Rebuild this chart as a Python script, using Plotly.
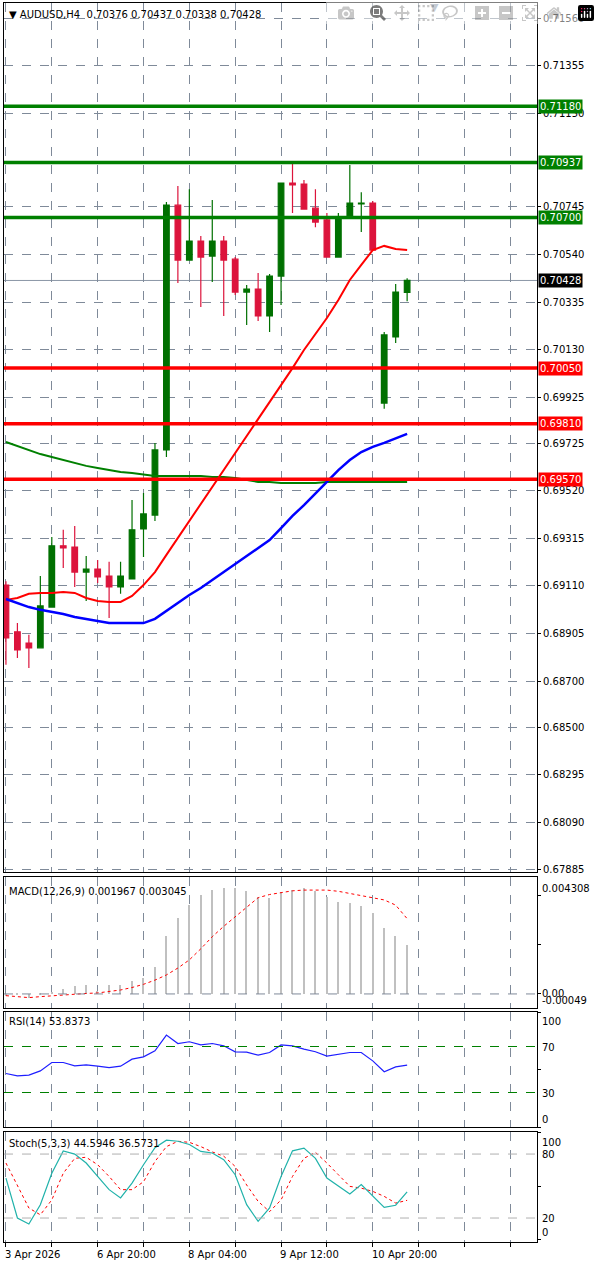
import plotly.graph_objects as go

# ---------------- data ----------------
opens = [0.69114,0.68912,0.68864,0.68843,0.69019,0.69283,0.69278,0.69170,0.69183,0.69153,0.69106,0.69140,0.69356,0.69416,0.69697,0.70753,0.70516,0.70598,0.70533,0.70598,0.70520,0.70378,0.70391,0.70275,0.70447,0.70848,0.70844,0.70740,0.70689,0.70529,0.70697,0.70758,0.70762,0.69899,0.70184,0.70376]
highs = [0.69130,0.68950,0.68899,0.69153,0.69321,0.69352,0.69369,0.69239,0.69222,0.69214,0.69214,0.69481,0.69511,0.69727,0.70766,0.70835,0.70822,0.70620,0.70775,0.70620,0.70529,0.70408,0.70460,0.70456,0.70848,0.70939,0.70861,0.70822,0.70719,0.70719,0.70926,0.70809,0.70771,0.70206,0.70413,0.70437]
lows  = [0.68770,0.68799,0.68756,0.68843,0.69019,0.69188,0.69106,0.69045,0.69123,0.68972,0.69076,0.69140,0.69235,0.69390,0.69666,0.70417,0.70516,0.70313,0.70421,0.70275,0.70365,0.70236,0.70253,0.70206,0.70322,0.70719,0.70736,0.70658,0.70529,0.70529,0.70697,0.70637,0.70559,0.69874,0.70158,0.70338]
closes= [0.68886,0.68834,0.68843,0.69024,0.69283,0.69274,0.69170,0.69183,0.69149,0.69106,0.69153,0.69352,0.69421,0.69697,0.70753,0.70516,0.70598,0.70529,0.70598,0.70516,0.70378,0.70391,0.70275,0.70447,0.70848,0.70840,0.70736,0.70680,0.70529,0.70697,0.70762,0.70762,0.70559,0.70193,0.70378,0.70428]

ma_fast = [0.69050,0.69058,0.69076,0.69080,0.69080,0.69084,0.69080,0.69058,0.69045,0.69041,0.69041,0.69067,0.69114,0.69170,0.69244,0.69317,0.69390,0.69464,0.69537,0.69610,0.69684,0.69757,0.69830,0.69904,0.69977,0.70050,0.70128,0.70197,0.70266,0.70344,0.70430,0.70495,0.70559,0.70577,0.70564,0.70559]
ma_mid  = [0.69054,0.69037,0.69019,0.69007,0.68998,0.68989,0.68976,0.68968,0.68959,0.68950,0.68950,0.68950,0.68950,0.68968,0.69002,0.69037,0.69071,0.69101,0.69136,0.69170,0.69205,0.69239,0.69274,0.69308,0.69360,0.69412,0.69459,0.69507,0.69559,0.69610,0.69653,0.69688,0.69710,0.69727,0.69748,0.69766]
ma_slow = [0.69731,0.69714,0.69697,0.69679,0.69666,0.69653,0.69641,0.69628,0.69619,0.69610,0.69602,0.69597,0.69589,0.69584,0.69584,0.69584,0.69584,0.69584,0.69580,0.69580,0.69576,0.69567,0.69559,0.69559,0.69554,0.69554,0.69554,0.69554,0.69559,0.69559,0.69559,0.69559,0.69559,0.69559,0.69559,0.69559]

macd_hist = [-0.00010,-0.00005,-0.00015,-0.00005,0.00005,0.00019,0.00032,0.00036,0.00010,0.00036,0.00036,0.00053,0.00063,0.00111,0.00235,0.00307,0.00361,0.00401,0.00421,0.00428,0.00428,0.00419,0.00394,0.00388,0.00415,0.00421,0.00428,0.00417,0.00394,0.00374,0.00367,0.00357,0.00327,0.00269,0.00235,0.00197]
macd_signal = [-0.00007,-0.00010,-0.00015,-0.00011,-0.00007,-0.00003,0.00000,0.00002,0.00004,0.00009,0.00016,0.00026,0.00039,0.00056,0.00077,0.00105,0.00138,0.00183,0.00232,0.00274,0.00313,0.00355,0.00390,0.00403,0.00412,0.00418,0.00421,0.00422,0.00421,0.00416,0.00408,0.00400,0.00390,0.00381,0.00360,0.00305]
rsi = [46.5,44.5,45.1,48.8,56.1,56.1,53.2,54.1,52.9,51.7,52.9,59.0,61.0,66.2,79.9,72.6,74.1,71.4,72.6,70.6,65.4,65.1,62.5,64.8,71.4,70.6,67.7,65.4,61.6,63.3,64.8,64.8,57.5,48.0,52.3,53.8]
stoch_k = [57.5,20.0,14.4,32.5,62.0,83.0,80.0,71.6,59.0,46.6,38.8,52.8,70.0,86.0,93.0,92.0,89.0,82.5,81.0,74.7,60.6,32.5,16.9,29.4,59.0,83.0,85.6,76.0,57.5,49.7,42.5,51.3,40.3,30.0,32.0,44.6]
stoch_d = [71.6,51.0,29.4,23.0,37.0,62.0,76.0,77.0,70.0,59.0,46.6,46.6,54.0,73.0,87.0,92.0,91.0,87.0,82.0,78.0,68.4,51.0,35.6,26.0,37.0,59.0,76.0,81.6,71.6,60.6,49.7,48.0,45.0,40.3,34.0,36.6]

indicator_titles = ["MACD(12,26,9) 0.001967 0.003045", "RSI(14) 53.8373", "Stoch(5,3,3) 44.5946 36.5731"]
green_levels = [0.71180, 0.70937, 0.70700]
red_levels = [0.70050, 0.69810, 0.69570]
last_price = 0.70428
price_ticks = [0.71560,0.71355,0.71150,0.70745,0.70540,0.70335,0.70130,0.69925,0.69725,0.69520,0.69315,0.69110,0.68905,0.68700,0.68500,0.68295,0.68090,0.67885]
macd_labels = ["0.004308", "0.00", "-0.00049"]
rsi_labels = ["100", "70", "30", "0"]
stoch_labels = ["100", "80", "20", "0"]
date_idx = [0, 8, 16, 24, 32]
date_labels = ["3 Apr 2026", "6 Apr 20:00", "8 Apr 04:00", "9 Apr 12:00", "10 Apr 20:00"]
title_text = "AUDUSD,H4  0.70376 0.70437 0.70338 0.70428"

x = list(range(len(closes)))
FONT = "DejaVu Sans"
GREEN = "#007000"
CRIMSON = "#DC143C"
GRID = "#7f8a99"

fig = go.Figure()
fig.add_trace(go.Candlestick(x=x, open=opens, high=highs, low=lows, close=closes,
    increasing=dict(line=dict(color=GREEN, width=1.2), fillcolor=GREEN),
    decreasing=dict(line=dict(color=CRIMSON, width=1.2), fillcolor=CRIMSON),
    whiskerwidth=0, xaxis="x", yaxis="y", showlegend=False))
fig.add_trace(go.Scatter(x=x, y=ma_slow, mode="lines", line=dict(color="#008000", width=2), xaxis="x", yaxis="y", showlegend=False))
fig.add_trace(go.Scatter(x=x, y=ma_fast, mode="lines", line=dict(color="#FF0000", width=2), xaxis="x", yaxis="y", showlegend=False))
fig.add_trace(go.Scatter(x=x, y=ma_mid, mode="lines", line=dict(color="#0000FF", width=2.5), xaxis="x", yaxis="y", showlegend=False))

fig.add_trace(go.Bar(x=x, y=macd_hist, marker=dict(color="#c0c0c0", line=dict(width=0)), width=0.12, xaxis="x2", yaxis="y2", showlegend=False))
fig.add_trace(go.Scatter(x=x, y=macd_signal, mode="lines", line=dict(color="#FF0000", width=1, dash="dot"), xaxis="x2", yaxis="y2", showlegend=False))
fig.add_trace(go.Scatter(x=x, y=rsi, mode="lines", line=dict(color="#1E1EFF", width=1.2), xaxis="x3", yaxis="y3", showlegend=False))
fig.add_trace(go.Scatter(x=x, y=stoch_d, mode="lines", line=dict(color="#FF0000", width=1, dash="dot"), xaxis="x4", yaxis="y4", showlegend=False))
fig.add_trace(go.Scatter(x=x, y=stoch_k, mode="lines", line=dict(color="#20B2AA", width=1.2), xaxis="x4", yaxis="y4", showlegend=False))

def frac(px):
    return 1 - px / 1243.0

xr = [-0.17, 46.33]
xcommon = dict(range=xr, showgrid=True, gridcolor=GRID, griddash="dash", gridwidth=1,
               tick0=0, dtick=4, showticklabels=False, zeroline=False,
               showline=True, linecolor="black", linewidth=1, mirror=True, domain=[0, 1])
ycommon = dict(side="right", showline=True, linecolor="black", linewidth=1, mirror=True,
               zeroline=False, tickfont=dict(family=FONT, size=10, color="black"),
               ticks="outside", ticklen=3, tickcolor="black")

shapes = []
for lv in green_levels:
    shapes.append(dict(type="line", xref="paper", x0=0, x1=1, yref="y", y0=lv, y1=lv, line=dict(color="#008000", width=3.5)))
for lv in red_levels:
    shapes.append(dict(type="line", xref="paper", x0=0, x1=1, yref="y", y0=lv, y1=lv, line=dict(color="#FF0000", width=3.5)))
shapes.append(dict(type="line", xref="paper", x0=0, x1=1, yref="y", y0=last_price, y1=last_price, line=dict(color="#8a96a6", width=1), layer="below"))
for lv in [70, 30]:
    shapes.append(dict(type="line", xref="x3", x0=xr[0], x1=xr[1], yref="y3", y0=lv, y1=lv, line=dict(color="#008000", width=1, dash="dash")))
for lv in [80, 20]:
    shapes.append(dict(type="line", xref="x4", x0=xr[0], x1=xr[1], yref="y4", y0=lv, y1=lv, line=dict(color="#b0b0b0", width=1, dash="dash")))
shapes.append(dict(type="line", xref="x2", x0=xr[0], x1=xr[1], yref="y2", y0=0, y1=0, line=dict(color=GRID, width=1, dash="dash")))

ann = []
def lab(text, y, bg):
    ann.append(dict(text=text, x=1, xref="paper", xanchor="left", xshift=1, y=y, yref="y",
                    showarrow=False, bgcolor=bg, font=dict(family=FONT, size=10, color="white"), borderpad=1))
for lv in green_levels:
    lab(f"{lv:.5f}", lv, "#008000")
for lv in red_levels:
    lab(f"{lv:.5f}", lv, "#FF0000")
lab(f"{last_price:.5f}", last_price, "black")

def txt(text, xx, yy, size=10, xanchor="left", color="black", xshift=0):
    ann.append(dict(text=text, x=xx, xref="paper", y=yy, yref="paper", showarrow=False, xanchor=xanchor,
                    xshift=xshift, yanchor="middle", font=dict(family=FONT, size=size, color=color)))

txt("▼ " + title_text, 0.005, frac(14))
txt("▼", 0.795, frac(7), size=11, color="#8a96a6")
for t, py in zip(indicator_titles, [891, 1022, 1143]):
    txt(t, 0.005, frac(py))
for t, py in zip(macd_labels, [888, 993, 1000]):
    txt(t, 1, frac(py), xshift=3)
for t, py in zip(rsi_labels, [1022, 1047, 1093, 1119]):
    txt(t, 1, frac(py), xshift=3)
for t, py in zip(stoch_labels, [1142, 1154, 1218, 1232]):
    txt(t, 1, frac(py), xshift=3)
for i, l in zip(date_idx, date_labels):
    ann.append(dict(text=l, x=i, xref="x4", y=frac(1254), yref="paper", showarrow=False,
                    xanchor="left", xshift=-3, yanchor="middle", font=dict(family=FONT, size=10, color="black")))

fig.update_layout(
    width=600, height=1263, margin=dict(l=4, r=63, t=0, b=20),
    paper_bgcolor="white", plot_bgcolor="white", showlegend=False, bargap=0,
    xaxis=dict(**xcommon, anchor="y", rangeslider=dict(visible=False)),
    xaxis2=dict(**xcommon, anchor="y2", matches="x"),
    xaxis3=dict(**xcommon, anchor="y3", matches="x"),
    xaxis4=dict(**xcommon, anchor="y4", matches="x"),
    yaxis=dict(**ycommon, domain=[frac(872), frac(3)], range=[0.67876, 0.71625],
               tickvals=price_ticks, ticktext=[f"{t:.5f}" for t in price_ticks],
               showgrid=True, gridcolor=GRID, griddash="dash"),
    yaxis2=dict(**ycommon, domain=[frac(1008), frac(877)], range=[-0.00057, 0.00474], showticklabels=False, showgrid=False),
    yaxis3=dict(**ycommon, domain=[frac(1127), frac(1012)], range=[0, 100], showticklabels=False, showgrid=False),
    yaxis4=dict(**ycommon, domain=[frac(1242), frac(1132)], range=[-2.5, 100.7], showticklabels=False, showgrid=False),
    shapes=shapes, annotations=ann,
)
fig.update_layout(xaxis4=dict(ticks="outside", ticklen=4, tickcolor="black"))
fig.write_html("out.html", post_script="document.body.style.margin='0';document.body.style.overflow='hidden';")
